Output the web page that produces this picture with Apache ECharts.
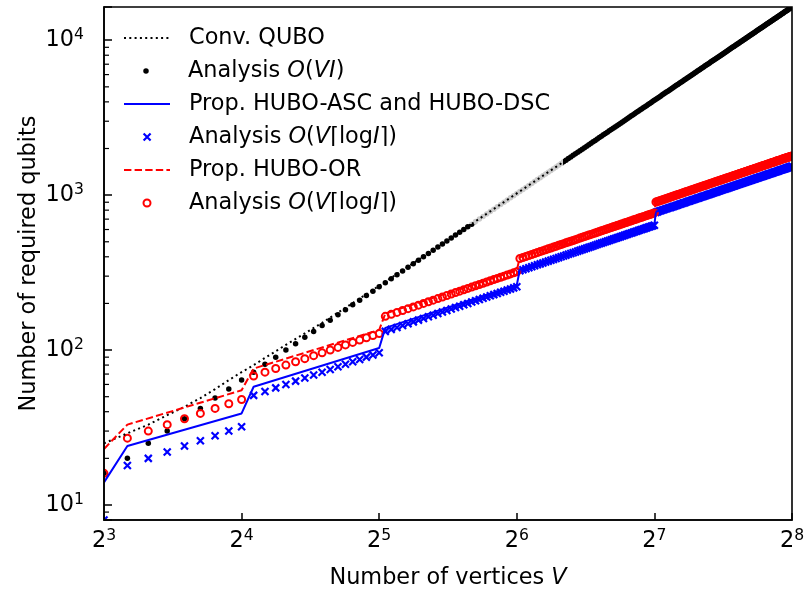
<!DOCTYPE html>
<html>
<head>
<meta charset="utf-8">
<title>Required qubits vs vertices</title>
<script src="https://cdn.jsdelivr.net/npm/echarts@6/dist/echarts.min.js"></script>
<style>
  html, body { margin: 0; padding: 0; background: #fff; }
  #main { width: 806px; height: 591px; }
</style>
</head>
<body>
<div id="main"></div>
<script>
  // number of vertices V (every integer from 8 to 256)
  const vertices = [
    8, 9, 10, 11, 12, 13, 14, 15, 16, 17, 18, 19, 20, 21, 22, 23, 24, 25, 26, 27, 28, 29, 30, 31,
    32, 33, 34, 35, 36, 37, 38, 39, 40, 41, 42, 43, 44, 45, 46, 47, 48, 49, 50, 51, 52, 53, 54, 55,
    56, 57, 58, 59, 60, 61, 62, 63, 64, 65, 66, 67, 68, 69, 70, 71, 72, 73, 74, 75, 76, 77, 78, 79,
    80, 81, 82, 83, 84, 85, 86, 87, 88, 89, 90, 91, 92, 93, 94, 95, 96, 97, 98, 99, 100, 101, 102, 103,
    104, 105, 106, 107, 108, 109, 110, 111, 112, 113, 114, 115, 116, 117, 118, 119, 120, 121, 122, 123,
    124, 125, 126, 127, 128, 129, 130, 131, 132, 133, 134, 135, 136, 137, 138, 139, 140, 141, 142, 143,
    144, 145, 146, 147, 148, 149, 150, 151, 152, 153, 154, 155, 156, 157, 158, 159, 160, 161, 162, 163,
    164, 165, 166, 167, 168, 169, 170, 171, 172, 173, 174, 175, 176, 177, 178, 179, 180, 181, 182, 183,
    184, 185, 186, 187, 188, 189, 190, 191, 192, 193, 194, 195, 196, 197, 198, 199, 200, 201, 202, 203,
    204, 205, 206, 207, 208, 209, 210, 211, 212, 213, 214, 215, 216, 217, 218, 219, 220, 221, 222, 223,
    224, 225, 226, 227, 228, 229, 230, 231, 232, 233, 234, 235, 236, 237, 238, 239, 240, 241, 242, 243,
    244, 245, 246, 247, 248, 249, 250, 251, 252, 253, 254, 255, 256
  ]

  // Conv. QUBO (dotted line)
  const convV = [8, 9, 10, 11, 12, 13, 14, 15, 16, 17, 18, 20, 22, 24, 28, 32, 40, 48, 64, 96, 128, 192, 256]
  const convQubits = [25, 29, 33, 38, 43, 49, 56, 64, 72, 80, 89, 108, 128, 150, 201, 260, 402, 578, 1026, 2306, 4098, 9216, 16384]

  // Analysis O(VI) (black dots)
  const analysisVI = [
    16, 20, 25, 30, 36, 42, 49, 56,
    64, 72, 81, 90, 100, 110, 121, 132,
    144, 156, 169, 182, 196, 210, 225, 240,
    256, 272, 289, 306, 324, 342, 361, 380,
    400, 420, 441, 462, 484, 506, 529, 552,
    576, 600, 625, 650, 676, 702, 729, 756,
    784, 812, 841, 870, 900, 930, 961, 992,
    1024, 1056, 1089, 1122, 1156, 1190, 1225, 1260,
    1296, 1332, 1369, 1406, 1444, 1482, 1521, 1560,
    1600, 1640, 1681, 1722, 1764, 1806, 1849, 1892,
    1936, 1980, 2025, 2070, 2116, 2162, 2209, 2256,
    2304, 2352, 2401, 2450, 2500, 2550, 2601, 2652,
    2704, 2756, 2809, 2862, 2916, 2970, 3025, 3080,
    3136, 3192, 3249, 3306, 3364, 3422, 3481, 3540,
    3600, 3660, 3721, 3782, 3844, 3906, 3969, 4032,
    4096, 4160, 4225, 4290, 4356, 4422, 4489, 4556,
    4624, 4692, 4761, 4830, 4900, 4970, 5041, 5112,
    5184, 5256, 5329, 5402, 5476, 5550, 5625, 5700,
    5776, 5852, 5929, 6006, 6084, 6162, 6241, 6320,
    6400, 6480, 6561, 6642, 6724, 6806, 6889, 6972,
    7056, 7140, 7225, 7310, 7396, 7482, 7569, 7656,
    7744, 7832, 7921, 8010, 8100, 8190, 8281, 8372,
    8464, 8556, 8649, 8742, 8836, 8930, 9025, 9120,
    9216, 9312, 9409, 9506, 9604, 9702, 9801, 9900,
    10000, 10100, 10201, 10302, 10404, 10506, 10609, 10712,
    10816, 10920, 11025, 11130, 11236, 11342, 11449, 11556,
    11664, 11772, 11881, 11990, 12100, 12210, 12321, 12432,
    12544, 12656, 12769, 12882, 12996, 13110, 13225, 13340,
    13456, 13572, 13689, 13806, 13924, 14042, 14161, 14280,
    14400, 14520, 14641, 14762, 14884, 15006, 15129, 15252,
    15376, 15500, 15625, 15750, 15876, 16002, 16129, 16256,
    16384
  ]

  // Prop. HUBO-ASC and HUBO-DSC (blue line)
  const propV = [8, 9, 16, 17, 32, 33, 64, 65, 128, 129, 256]
  const propAsc = [14, 24, 39, 58, 103, 139, 263, 332, 648, 782, 1544]

  // Analysis O(V ceil(log I)) (blue crosses)
  const analysisAsc = [
    8,
    18, 20, 22, 24, 26, 28, 30, 32,
    51, 54, 57, 60, 63, 66, 69, 72, 75, 78, 81, 84, 87, 90, 93, 96,
    132, 136, 140, 144, 148, 152, 156, 160, 164, 168, 172, 176, 180, 184, 188, 192,
    196, 200, 204, 208, 212, 216, 220, 224, 228, 232, 236, 240, 244, 248, 252, 256,
    325, 330, 335, 340, 345, 350, 355, 360, 365, 370, 375, 380, 385, 390, 395, 400,
    405, 410, 415, 420, 425, 430, 435, 440, 445, 450, 455, 460, 465, 470, 475, 480,
    485, 490, 495, 500, 505, 510, 515, 520, 525, 530, 535, 540, 545, 550, 555, 560,
    565, 570, 575, 580, 585, 590, 595, 600, 605, 610, 615, 620, 625, 630, 635, 640,
    774, 780, 786, 792, 798, 804, 810, 816, 822, 828, 834, 840, 846, 852, 858, 864,
    870, 876, 882, 888, 894, 900, 906, 912, 918, 924, 930, 936, 942, 948, 954, 960,
    966, 972, 978, 984, 990, 996, 1002, 1008, 1014, 1020, 1026, 1032, 1038, 1044, 1050, 1056,
    1062, 1068, 1074, 1080, 1086, 1092, 1098, 1104, 1110, 1116, 1122, 1128, 1134, 1140, 1146, 1152,
    1158, 1164, 1170, 1176, 1182, 1188, 1194, 1200, 1206, 1212, 1218, 1224, 1230, 1236, 1242, 1248,
    1254, 1260, 1266, 1272, 1278, 1284, 1290, 1296, 1302, 1308, 1314, 1320, 1326, 1332, 1338, 1344,
    1350, 1356, 1362, 1368, 1374, 1380, 1386, 1392, 1398, 1404, 1410, 1416, 1422, 1428, 1434, 1440,
    1446, 1452, 1458, 1464, 1470, 1476, 1482, 1488, 1494, 1500, 1506, 1512, 1518, 1524, 1530, 1536
  ]

  // Prop. HUBO-OR (red dashed line)
  const propOr = [23, 33, 55, 76, 135, 172, 327, 397, 776, 911, 1800]

  // Analysis O(V ceil(log I)) for HUBO-OR (red circles)
  const analysisOr = [
    16,
    27, 30, 33, 36, 39, 42, 45, 48,
    68, 72, 76, 80, 84, 88, 92, 96, 100, 104, 108, 112, 116, 120, 124, 128,
    165, 170, 175, 180, 185, 190, 195, 200, 205, 210, 215, 220, 225, 230, 235, 240,
    245, 250, 255, 260, 265, 270, 275, 280, 285, 290, 295, 300, 305, 310, 315, 320,
    390, 396, 402, 408, 414, 420, 426, 432, 438, 444, 450, 456, 462, 468, 474, 480,
    486, 492, 498, 504, 510, 516, 522, 528, 534, 540, 546, 552, 558, 564, 570, 576,
    582, 588, 594, 600, 606, 612, 618, 624, 630, 636, 642, 648, 654, 660, 666, 672,
    678, 684, 690, 696, 702, 708, 714, 720, 726, 732, 738, 744, 750, 756, 762, 768,
    903, 910, 917, 924, 931, 938, 945, 952, 959, 966, 973, 980, 987, 994, 1001, 1008,
    1015, 1022, 1029, 1036, 1043, 1050, 1057, 1064, 1071, 1078, 1085, 1092, 1099, 1106, 1113, 1120,
    1127, 1134, 1141, 1148, 1155, 1162, 1169, 1176, 1183, 1190, 1197, 1204, 1211, 1218, 1225, 1232,
    1239, 1246, 1253, 1260, 1267, 1274, 1281, 1288, 1295, 1302, 1309, 1316, 1323, 1330, 1337, 1344,
    1351, 1358, 1365, 1372, 1379, 1386, 1393, 1400, 1407, 1414, 1421, 1428, 1435, 1442, 1449, 1456,
    1463, 1470, 1477, 1484, 1491, 1498, 1505, 1512, 1519, 1526, 1533, 1540, 1547, 1554, 1561, 1568,
    1575, 1582, 1589, 1596, 1603, 1610, 1617, 1624, 1631, 1638, 1645, 1652, 1659, 1666, 1673, 1680,
    1687, 1694, 1701, 1708, 1715, 1722, 1729, 1736, 1743, 1750, 1757, 1764, 1771, 1778, 1785, 1792
  ]

  // minor ticks of the log y axis
  const yMinorTicks = [9, 20, 30, 40, 50, 60, 70, 80, 90, 200, 300, 400, 500, 600, 700, 800, 900,
    2000, 3000, 4000, 5000, 6000, 7000, 8000, 9000]

  const X_MIN = 8
  const X_MAX = 256
  const Y_MIN = 8
  const Y_MAX = 16384

  const FONT = 'DejaVu Sans'
  const FS = 22.4
  const SUP = 15.6

  const pairs = (xs, ys) => xs.map((x, i) => [x, ys[i]])
  const crossPath = 'path://M0,0L7,7M7,0L0,7'

  const supRich = {
    b: { fontFamily: FONT, fontSize: FS, lineHeight: 26, color: '#000' },
    s: { fontFamily: FONT, fontSize: SUP, lineHeight: 18, verticalAlign: 'top', color: '#000' }
  }
  const italicRich = {
    i: { fontFamily: FONT, fontSize: FS, lineHeight: 26, fontStyle: 'italic', color: '#000' }
  }

  // legend rows: series name, label, row centre, icon height (0 = line sample), icon border
  const ICON_W = 46
  const legendRows = [
    { name: 'conv', label: 'Conv. QUBO', y: 38, h: 0, bw: 0 },
    { name: 'anaVI', label: 'Analysis {i|O}({i|VI})', y: 71, h: 5.5, bw: 0 },
    { name: 'asc', label: 'Prop. HUBO-ASC and HUBO-DSC', y: 104, h: 0, bw: 0 },
    { name: 'anaAsc', label: 'Analysis {i|O}({i|V}⌈log{i|I}⌉)', y: 137, h: 7, bw: 2.2 },
    { name: 'or', label: 'Prop. HUBO-OR', y: 170, h: 0, bw: 0 },
    { name: 'anaOr', label: 'Analysis {i|O}({i|V}⌈log{i|I}⌉)', y: 203, h: 7, bw: 2 }
  ]

  const legends = legendRows.map(r => {
    const isLine = r.h === 0
    const h = isLine ? 10 : r.h
    return {
      data: [r.name],
      left: isLine ? 123 : 123 + (ICON_W - h) / 2,
      top: r.y - 13,
      orient: 'vertical',
      padding: 0,
      itemWidth: ICON_W,
      itemHeight: h,
      selectedMode: false,
      z: 6,
      formatter: () => r.label,
      itemStyle: isLine ? { color: 'transparent', borderWidth: 0, opacity: 0 } : { borderWidth: r.bw, opacity: 1 },
      lineStyle: { width: 2, opacity: 1 },
      textStyle: {
        fontFamily: FONT, fontSize: FS, lineHeight: 26, color: '#000',
        padding: [0, 0, 0, 14], rich: italicRich
      }
    }
  })

  const chart = echarts.init(document.getElementById('main'))

  chart.setOption({
    animation: false,
    backgroundColor: '#fff',
    textStyle: { fontFamily: FONT },
    grid: {
      left: 104, right: 14, top: 7, bottom: 71,
      show: true, borderColor: '#000', borderWidth: 1.6, backgroundColor: 'transparent',
      z: 5, outerBoundsMode: 'none'
    },
    legend: legends,
    graphic: [
      // legend frame (semi transparent)
      { type: 'rect', z: 3, silent: true, shape: { x: 112, y: 13, width: 451, height: 211, r: 4 },
        style: { fill: 'rgba(255,255,255,0.8)' } },
      // masks outside the plot area, so markers get clipped at the frame
      { type: 'rect', z: 4, silent: true, shape: { x: 0, y: 0, width: 104, height: 591 }, style: { fill: '#fff' } },
      { type: 'rect', z: 4, silent: true, shape: { x: 792, y: 0, width: 14, height: 591 }, style: { fill: '#fff' } },
      { type: 'rect', z: 4, silent: true, shape: { x: 0, y: 0, width: 806, height: 7 }, style: { fill: '#fff' } },
      { type: 'rect', z: 4, silent: true, shape: { x: 0, y: 520, width: 806, height: 71 }, style: { fill: '#fff' } }
    ],
    xAxis: {
      type: 'log',
      logBase: 2,
      min: X_MIN,
      max: X_MAX,
      z: 5,
      axisLine: { show: true, onZero: false, lineStyle: { color: '#000', width: 1.6 } },
      axisTick: { show: true, inside: true, length: 7, lineStyle: { color: '#000', width: 1.5 } },
      splitLine: { show: false },
      axisLabel: {
        margin: 8,
        formatter: v => '{b|2}{s|' + Math.round(Math.log2(v)) + '}',
        rich: supRich
      },
      name: 'Number of vertices {i|V}',
      nameLocation: 'middle',
      nameGap: 45,
      nameMoveOverlap: false,
      nameTextStyle: { fontFamily: FONT, fontSize: FS, lineHeight: 26, color: '#000', rich: italicRich }
    },
    yAxis: {
      type: 'log',
      logBase: 10,
      min: Y_MIN,
      max: Y_MAX,
      z: 5,
      axisLine: { show: true, onZero: false, lineStyle: { color: '#000', width: 1.6 } },
      axisTick: { show: true, inside: true, length: 8, lineStyle: { color: '#000', width: 1.5 } },
      splitLine: { show: false },
      axisLabel: {
        margin: 20,
        formatter: v => {
          const e = Math.log10(v)
          const r = Math.round(e)
          return Math.abs(e - r) < 1e-6 ? '{b|10}{s|' + r + '}' : ''
        },
        rich: supRich
      },
      name: 'Number of required qubits',
      nameLocation: 'middle',
      nameRotate: 90,
      nameGap: 62,
      nameMoveOverlap: false,
      nameTextStyle: { fontFamily: FONT, fontSize: FS, lineHeight: 26, color: '#000' }
    },
    series: [
      {
        name: 'conv',
        type: 'line',
        data: pairs(convV, convQubits),
        symbol: 'none',
        clip: false,
        itemStyle: { color: '#000' },
        lineStyle: { color: '#000', width: 2, type: [2, 3.3], opacity: 1 }
      },
      {
        name: 'anaVI',
        type: 'scatter',
        data: pairs(vertices, analysisVI),
        symbol: 'circle',
        symbolSize: 5.5,
        clip: false,
        itemStyle: { color: '#000', opacity: 1 }
      },
      {
        name: 'asc',
        type: 'line',
        data: pairs(propV, propAsc),
        symbol: 'none',
        clip: false,
        itemStyle: { color: '#0000ff' },
        lineStyle: { color: '#0000ff', width: 2, opacity: 1 }
      },
      {
        name: 'anaAsc',
        type: 'scatter',
        data: pairs(vertices, analysisAsc),
        symbol: crossPath,
        symbolSize: 7,
        clip: false,
        itemStyle: { color: 'transparent', borderColor: '#0000ff', borderWidth: 2.2, opacity: 1 }
      },
      {
        name: 'or',
        type: 'line',
        data: pairs(propV, propOr),
        symbol: 'none',
        clip: false,
        itemStyle: { color: '#ff0000' },
        lineStyle: { color: '#ff0000', width: 2, type: [7.4, 3.2], opacity: 1 }
      },
      {
        name: 'anaOr',
        type: 'scatter',
        data: pairs(vertices, analysisOr),
        symbol: 'circle',
        symbolSize: 7,
        clip: false,
        itemStyle: { color: 'transparent', borderColor: '#ff0000', borderWidth: 2, opacity: 1 }
      },
      {
        name: 'minorTicks',
        type: 'custom',
        silent: true,
        clip: false,
        z: 6,
        data: yMinorTicks.map(v => [X_MIN, v]),
        renderItem: (params, api) => {
          const p = api.coord([api.value(0), api.value(1)])
          return {
            type: 'line',
            shape: { x1: p[0], y1: p[1], x2: p[0] + 5, y2: p[1] },
            style: { stroke: '#000', lineWidth: 1.2 }
          }
        }
      }
    ]
  })
</script>
</body>
</html>
